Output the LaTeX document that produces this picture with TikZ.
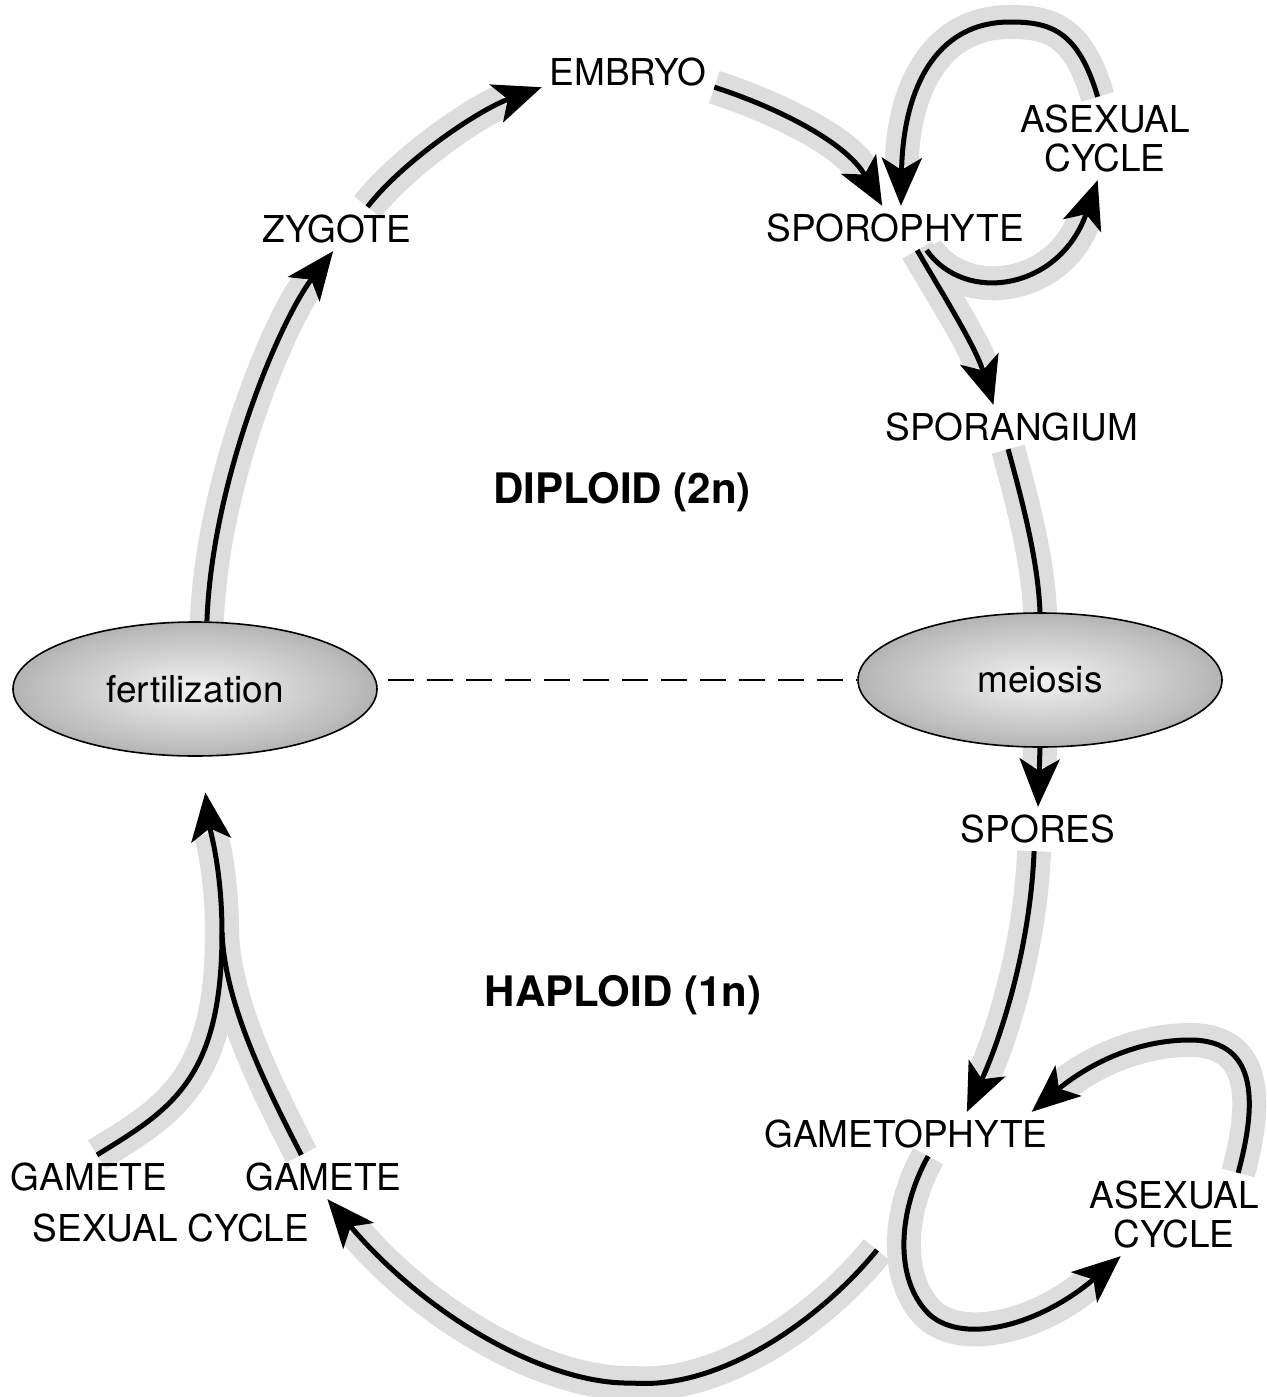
\documentclass[tikz,border=0pt]{standalone}
\usepackage{fontspec}
\setmainfont{TeX Gyre Heros}
\usetikzlibrary{arrows.meta,shapes.geometric,backgrounds}

\definecolor{shadowgray}{HTML}{DDDDDD}
\pgfdeclareradialshading{ellshade}{\pgfpoint{0bp}{0bp}}{%
  color(0bp)=(black!5); color(22bp)=(black!26); color(50bp)=(black!62); color(72bp)=(black!62)}
\newcommand\stagefont{\fontsize{18.5}{19.5}\selectfont}
\newcommand\phasefont{\fontsize{21}{24}\selectfont\bfseries}

\tikzset{
  stage/.style={font=\stagefont, align=center, inner sep=2pt, outer sep=2pt},
  phase/.style={font=\phasefont, inner sep=2pt},
  event/.style={ellipse, draw=black, line width=0.8pt, shading=ellshade,
    minimum width=182pt, minimum height=67pt, inner sep=0pt, font=\stagefont},
  shadowline/.style={draw=shadowgray, line width=17pt},
  flowplain/.style={draw=black, line width=2.5pt},
  flowline/.style={flowplain, -{Stealth[length=24pt,width=20pt,inset=6pt]}},
}

\begin{document}
\begin{tikzpicture}[x=0.5pt,y=-0.5pt]
\useasboundingbox (0,0) rectangle (1266,1397);

% stages
\node[stage] (emb) at (628,72) {EMBRYO};
\node[stage] (zyg) at (337,229) {ZYGOTE};
\node[stage] (spor) at (895,228) {SPOROPHYTE};
\node[stage] (asx1) at (1105,138.5) {ASEXUAL\\CYCLE};
\node[stage] (spn) at (1012,427) {SPORANGIUM};
\node[stage] (spores) at (1038,829) {SPORES};
\node[stage] (gph) at (906,1134) {GAMETOPHYTE};
\node[stage] (asx2) at (1174,1214.5) {ASEXUAL\\CYCLE};
\node[stage] (gmL) at (89,1177) {GAMETE};
\node[stage] (gmR) at (323.5,1177) {GAMETE};
\node[stage] (sexual) at (171,1227.5) {SEXUAL CYCLE};

\node[phase] (dip) at (622,492) {DIPLOID (2n)};
\node[phase] (hap) at (623,995) {HAPLOID (1n)};

\node[event] (fert) at (195,689) {fertilization};
\node[event] (meio) at (1040,680) {meiosis};

\coordinate (join) at (222,933);
\coordinate (sxstart) at (877,1250);

\begin{scope}[on background layer]
\draw[line width=1pt, dash pattern=on 13pt off 6.5pt, shorten <=5pt]
  (fert.east |- meio.west) -- (meio.west);

% grey bands
\draw[shadowline, shorten >=20pt] (fert.80) .. controls (212,480) and (280,320) .. (zyg.-100);
\draw[shadowline, shorten >=20pt] (zyg.36) .. controls (402,162) and (478,110) .. (emb.190);
\draw[shadowline, shorten >=20pt] (emb.-10) .. controls (770,105) and (845,140) .. (spor.120);
\draw[shadowline, shorten >=20pt] (asx1.100) .. controls (1078,30) and (1050,22) .. (1010,22)
  .. controls (935,22) and (903,90) .. (spor.75);
\draw[shadowline, shorten >=20pt] (spor.-35) .. controls (965,305) and (1060,290) .. (asx1.-100);
\draw[shadowline, shorten >=20pt] (spor.-45) .. controls (940,290) and (975,345) .. (spn.130);
\draw[shadowline] (spn.-100) .. controls (1022,500) and (1038,560) .. (meio.north);
\draw[shadowline, shorten >=20pt] (meio.south) -- (spores.north);
\draw[shadowline, shorten >=20pt] (spores.-100) .. controls (1030,950) and (1000,1040) .. (gph.20);
\draw[shadowline, shorten >=20pt] (asx2.33) .. controls (1255,1110) and (1262,1040) .. (1190,1040)
  .. controls (1125,1040) and (1075,1075) .. (gph.10);
\draw[shadowline, shorten >=20pt] (gph.-45) .. controls (898,1210) and (893,1280) .. (930,1315)
  .. controls (965,1345) and (1040,1325) .. (asx2.-142);
\draw[shadowline, shorten >=20pt] (sxstart) .. controls (820,1320) and (720,1390) .. (632,1383)
  .. controls (550,1385) and (430,1320) .. (gmR.-80);
\draw[shadowline] (gmL.70) .. controls (170,1110) and (222,1080) .. (join);
\draw[shadowline] (gmR.135) .. controls (260,1075) and (225,1000) .. (join);
\draw[shadowline, shorten >=38pt] (join) .. controls (222,870) and (210,830) .. (fert.-85);

% black flows
\draw[flowline] (fert.80) .. controls (212,480) and (280,320) .. (zyg.-100);
\draw[flowline] (zyg.36) .. controls (402,162) and (478,110) .. (emb.190);
\draw[flowline] (emb.-10) .. controls (770,105) and (845,140) .. (spor.120);
\draw[flowline] (asx1.100) .. controls (1078,30) and (1050,22) .. (1010,22)
  .. controls (935,22) and (903,90) .. (spor.75);
\draw[flowline] (spor.-35) .. controls (965,305) and (1060,290) .. (asx1.-100);
\draw[flowline] (spor.-45) .. controls (940,290) and (975,345) .. (spn.130);
\draw[flowplain] (spn.-100) .. controls (1022,500) and (1038,560) .. (meio.north);
\draw[flowline] (meio.south) -- (spores.north);
\draw[flowline] (spores.-100) .. controls (1030,950) and (1000,1040) .. (gph.20);
\draw[flowline] (asx2.33) .. controls (1255,1110) and (1262,1040) .. (1190,1040)
  .. controls (1125,1040) and (1075,1075) .. (gph.10);
\draw[flowline] (gph.-45) .. controls (898,1210) and (893,1280) .. (930,1315)
  .. controls (965,1345) and (1040,1325) .. (asx2.-142);
\draw[flowline] (sxstart) .. controls (820,1320) and (720,1390) .. (632,1383)
  .. controls (550,1385) and (430,1320) .. (gmR.-80);
\draw[flowplain] (gmL.70) .. controls (170,1110) and (222,1080) .. (join);
\draw[flowplain] (gmR.135) .. controls (260,1075) and (225,1000) .. (join);
\draw[flowline, shorten >=18pt] (join) .. controls (222,870) and (210,830) .. (fert.-85);
\end{scope}
\end{tikzpicture}
\end{document}
